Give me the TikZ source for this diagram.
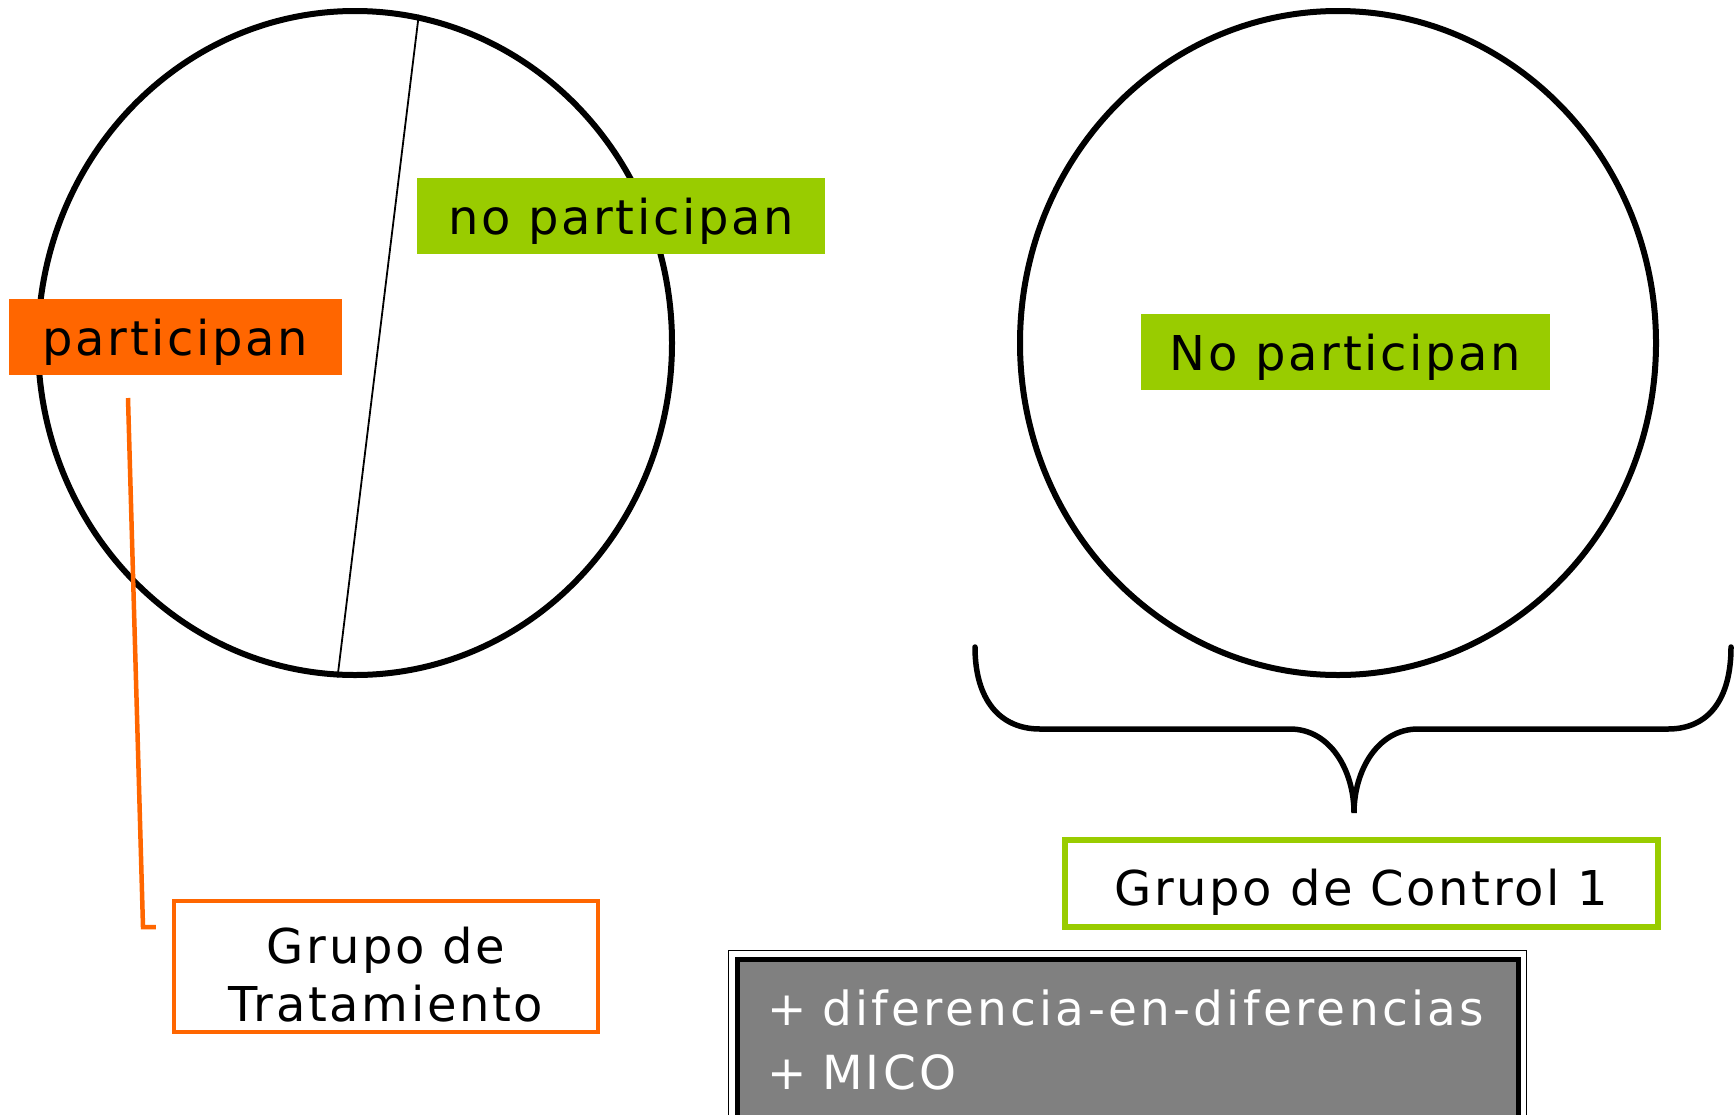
\documentclass[tikz,border=0pt]{standalone}
\usepackage{fontspec}
\setmainfont{DejaVu Sans}[LetterSpace=5.5]
\newfontfamily\boxfont{DejaVu Sans}[LetterSpace=7]
\usetikzlibrary{shapes.geometric}

\definecolor{leafgreen}{RGB}{153,204,0}
\definecolor{burnorange}{RGB}{255,102,0}
\definecolor{midgray}{RGB}{128,128,128}

\begin{document}
\begin{tikzpicture}[x=1pt,y=1pt,yscale=-1,
  group/.style={ellipse,draw=black,line width=6pt,inner sep=0pt},
  tag/.style={inner sep=0pt,minimum height=76pt,text height=42pt,text depth=5pt,font=\fontsize{48}{57.5}\selectfont},
  framebox/.style={draw,line width=5pt,inner sep=0pt,align=center,font=\fontsize{48}{57.5}\selectfont}]
\path[use as bounding box] (0,0) rectangle (1734,1114);

%Shape: Ellipse [treatment group]
\node[group,minimum width=634pt,minimum height=664pt] (tgroup) at (355,343) {};
%Shape: Ellipse [control group]
\node[group,minimum width=636pt,minimum height=664pt] (cgroup) at (1338,343) {};
%Straight Lines [split]
\draw[line width=1.8pt] (tgroup.79.6) -- (tgroup.267.7);

% Text Node
\node[tag,fill=leafgreen,minimum width=408pt] (nopart) at (621,216) {no participan};
% Text Node
\node[tag,fill=burnorange,minimum width=333pt] (part) at (175.5,337) {participan};
% Text Node
\node[tag,fill=leafgreen,minimum width=409pt] (nopartc) at (1345.5,352) {No participan};

% Text Node
\node[framebox,draw=burnorange,line width=4.5pt,minimum width=424pt,minimum height=131pt] (trat) at (386,966.5) {\rule{0pt}{52.5pt}Grupo de\\Tratamiento};
% Text Node
\node[framebox,draw=leafgreen,line width=5.5pt,minimum width=593pt,minimum height=87pt,text height=48pt,text depth=5pt] (ctrl) at (1361.5,883.5) {Grupo de Control 1};

%Straight Lines [link]
\coordinate (lnk) at (128,398);
\coordinate (lnkend) at ([xshift=-16pt]trat.west |- 0,927);
\draw[burnorange,line width=4.5pt] (lnk) -- (143,927) -- (lnkend);

%Shape: Brace
\draw[line width=5.5pt,line cap=round] (975,647) .. controls (975,700) and (1000,729) .. (1040,729) -- (1290,729)
  .. controls (1330,729) and (1354,770) .. (1354,813)
  .. controls (1354,770) and (1378,729) .. (1418,729) -- (1668,729)
  .. controls (1708,729) and (1731,700) .. (1731,647);

% Text Node
\node[draw=black,line width=5pt,fill=midgray,text=white,align=left,text width=721pt,inner xsep=30pt,inner ysep=0pt,
  minimum width=781pt,minimum height=171pt,font=\boxfont\fontsize{47}{64}\selectfont] (methods) at (1127.5,1044.5)
  {\mbox{+ diferencia-en-diferencias}\\+ MICO\rule[-10pt]{0pt}{10pt}};
\draw[line width=1.5pt] ([shift={(-6,-6)}]methods.north west) rectangle ([shift={(6,6)}]methods.south east);

\end{tikzpicture}
\end{document}
